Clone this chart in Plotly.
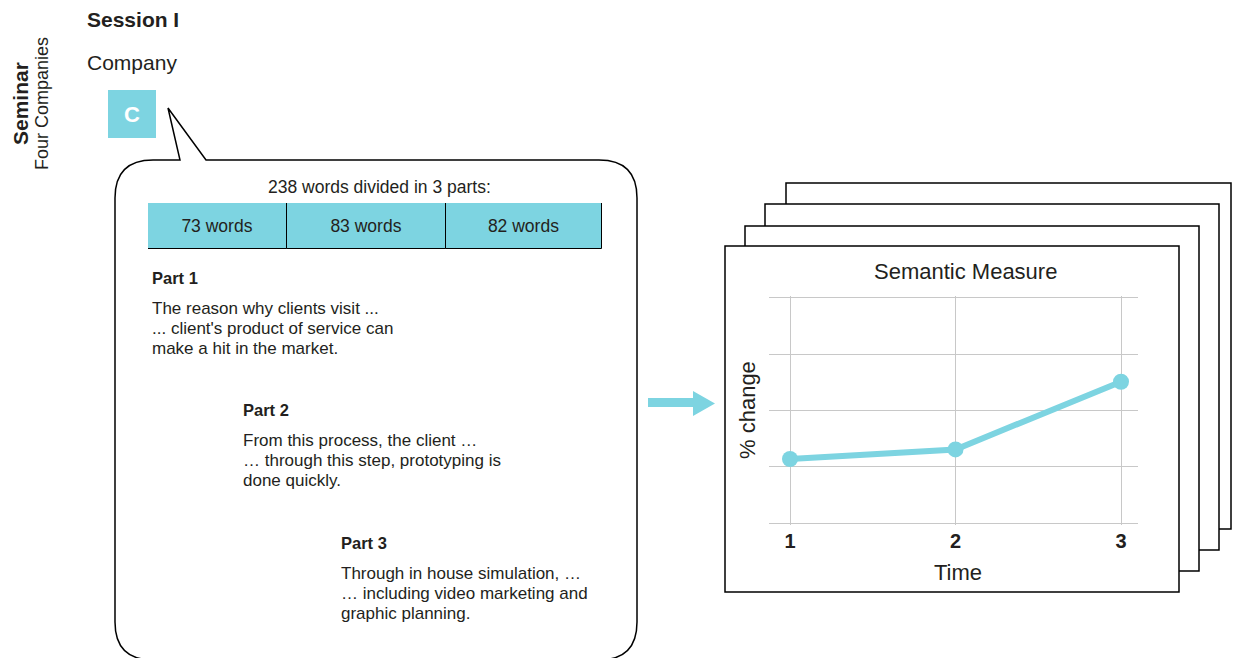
import numpy as np
import plotly.graph_objects as go

# ---------------- data ----------------
times = [1, 2, 3]
semantic_change = [1.14, 1.31, 2.51]
time_ticks = ["1", "2", "3"]

part_words = [73, 83, 82]
part_labels = [f"{w} words" for w in part_words]
total_words = sum(part_words)

part_titles = ["Part 1", "Part 2", "Part 3"]
part_lines = [
    ["The reason why clients visit ...",
     "... client's product of service can",
     "make a hit in the market."],
    ["From this process, the client \u2026",
     "\u2026 through this step, prototyping is",
     "done quickly."],
    ["Through in house simulation, \u2026",
     "\u2026 including video marketing and",
     "graphic planning."],
]

# ---------------- style ----------------
W, H = 1240, 658
OFF = 8  # page body margin
FONT = "Liberation Sans, Arial, Helvetica, sans-serif"
TXT = "#231f20"
CYAN = "#7dd4e1"
GRID = "#c8c8c8"


def X(p):
    return (p - OFF) / W


def Y(p):
    return 1 - (p - OFF) / H


def path(cmds):
    out = []
    for c in cmds:
        op, pts = c[0], c[1:]
        coords = []
        for i in range(0, len(pts), 2):
            coords.append(f"{X(pts[i]):.5f},{Y(pts[i+1]):.5f}")
        out.append(op + " " + " ".join(coords))
    return " ".join(out) + " Z"


annotations = []


def ann(text, x, y, size, bold=False, xanchor="left", angle=0, color=TXT):
    annotations.append(dict(
        text=text, x=X(x), y=Y(y), xref="paper", yref="paper",
        xanchor=xanchor, yanchor="middle", showarrow=False, textangle=angle,
        borderpad=0,
        font=dict(family=FONT, size=size, color=color,
                  weight="bold" if bold else "normal")))


shapes = []

# speech bubble
r = 38
shapes.append(dict(
    type="path", xref="paper", yref="paper", layer="below",
    path=path([("M", 115, 160 + r), ("Q", 115, 160, 115 + r, 160),
               ("L", 180, 160), ("L", 168, 108), ("L", 206, 160),
               ("L", 637 - r, 160), ("Q", 637, 160, 637, 160 + r),
               ("L", 637, 660 - r), ("Q", 637, 660, 637 - r, 660),
               ("L", 115 + r, 660), ("Q", 115, 660, 115, 660 - r)]),
    fillcolor="white", line=dict(color="black", width=1.5)))

# C box
shapes.append(dict(type="rect", xref="paper", yref="paper", layer="below",
                   x0=X(108), x1=X(156), y0=Y(138), y1=Y(90),
                   fillcolor=CYAN, line=dict(width=0)))

# arrow
shapes.append(dict(
    type="path", xref="paper", yref="paper", layer="below",
    path=path([("M", 648, 398), ("L", 693, 398), ("L", 693, 391),
               ("L", 715, 403.5), ("L", 693, 416), ("L", 693, 407),
               ("L", 648, 407)]),
    fillcolor=CYAN, line=dict(width=0)))

# stacked frames (back to front)
frames = [(786, 183, 1231, 529), (765, 204, 1219, 550),
          (745, 226, 1199, 571), (725, 246, 1179, 592)]
for x0, y0, x1, y1 in frames:
    shapes.append(dict(type="rect", xref="paper", yref="paper", layer="below",
                       x0=X(x0), x1=X(x1), y0=Y(y1), y1=Y(y0),
                       fillcolor="white", line=dict(color="black", width=1.5)))

# texts
ann("Session I", 86, 19, 21, bold=True)
ann("Company", 86, 62, 21)
ann("C", 132, 114, 22, bold=True, xanchor="center", color="white")
ann("Seminar", 20, 104, 21, bold=True, xanchor="center", angle=-90)
ann("Four Companies", 42, 104, 18, xanchor="center", angle=-90)
ann(f"{total_words} words divided in {len(part_words)} parts:", 379, 187, 17.5,
    xanchor="center")

part_x = [151, 242, 340]
part_y = [278, 410, 543]
for i in range(3):
    ann(part_titles[i], part_x[i], part_y[i], 16.5, bold=True)
    for j, line in enumerate(part_lines[i]):
        ann(line, part_x[i], part_y[i] + 30 + 20 * j, 17)

ann("Semantic Measure", 965, 272, 22, xanchor="center")
ann("Time", 958, 572, 22, xanchor="center")
ann("% change", 748, 410, 22, xanchor="center", angle=-90)

fig = go.Figure()

fig.add_trace(go.Scatter(
    x=times, y=semantic_change, mode="lines+markers",
    line=dict(color=CYAN, width=6), marker=dict(color=CYAN, size=16),
    hoverinfo="skip", showlegend=False, xaxis="x", yaxis="y"))

bases = np.concatenate([[0], np.cumsum(part_words)[:-1]])
fig.add_trace(go.Bar(
    x=part_words, base=bases, y=[0, 0, 0], orientation="h",
    text=part_labels, textposition="inside", insidetextanchor="middle",
    textfont=dict(family=FONT, size=17.5, color=TXT),
    marker=dict(color=CYAN, line=dict(color="black", width=1)),
    hoverinfo="skip", showlegend=False, xaxis="x2", yaxis="y2"))

# y axis: grid 0..4 between pixel 523.3 and 297.7, padded 2px so edge grid lines draw
y_unit = (523.3 - 297.7) / 4
pad = 2 / y_unit

fig.update_layout(
    width=W, height=H, autosize=False,
    margin=dict(l=0, r=0, t=0, b=0),
    paper_bgcolor="white", plot_bgcolor="rgba(0,0,0,0)",
    bargap=0, barmode="overlay",
    shapes=shapes, annotations=annotations,
    xaxis=dict(domain=[X(769), X(1138.3)], range=[0.8731, 3.1045],
               tickvals=times, ticktext=time_ticks,
               showgrid=True, gridcolor=GRID, gridwidth=1,
               zeroline=False, showline=False, ticks="",
               ticklabelstandoff=2,
               tickfont=dict(family=FONT, size=20, color=TXT, weight="bold"),
               fixedrange=True),
    yaxis=dict(domain=[Y(525.3), Y(295.7)], range=[-pad, 4 + pad], dtick=1,
               tick0=0,
               showgrid=True, gridcolor=GRID, gridwidth=1,
               zeroline=False, showline=False, showticklabels=False,
               fixedrange=True),
    xaxis2=dict(domain=[X(148), X(602)], range=[0, total_words],
                visible=False, fixedrange=True, anchor="y2"),
    yaxis2=dict(domain=[Y(249), Y(203)], range=[-0.5, 0.5],
                visible=False, fixedrange=True, anchor="x2"),
)

fig.write_html("out.html", config={"displayModeBar": False})
